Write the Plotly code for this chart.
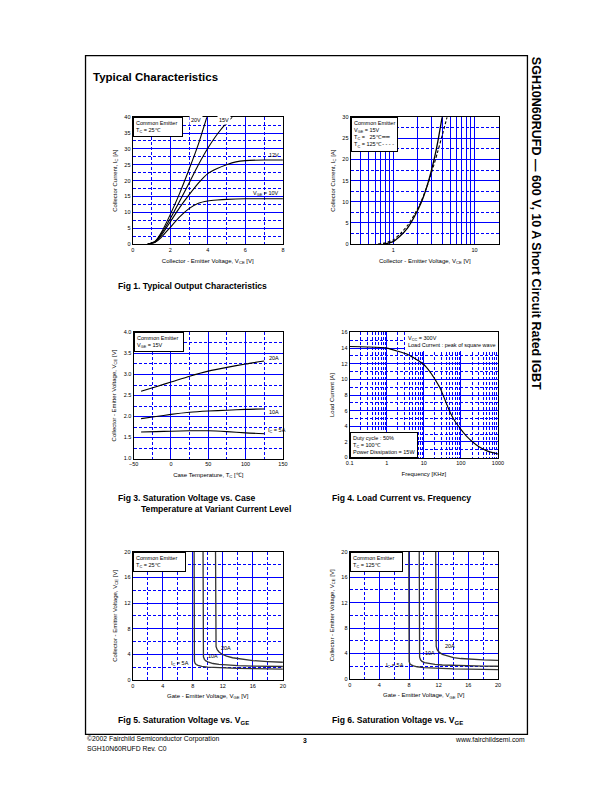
import plotly.graph_objects as go

W, H = 612, 792

# ---------------- DATA ----------------
# Fig 1: Typical output characteristics (VCE [V] vs IC [A])
f1_vce_10 = [0.8, 1.2, 1.5, 2.0, 2.5, 3.0, 3.5, 4.0, 4.5, 5.0, 6.0, 7.0, 8.0]
f1_ic_10 = [0.0, 0.6, 2.0, 5.3, 8.6, 11.2, 12.9, 13.6, 13.9, 14.1, 14.3, 14.3, 14.3]
f1_vce_12 = [0.8, 1.2, 1.5, 2.0, 2.5, 3.0, 3.5, 4.0, 4.5, 5.0, 5.5, 6.0, 7.0, 8.0]
f1_ic_12 = [0.0, 0.7, 2.5, 7.0, 11.5, 15.5, 19.2, 22.2, 23.8, 25.0, 25.9, 26.3, 26.5, 26.5]
f1_vce_15 = [0.8, 1.2, 1.5, 2.0, 2.5, 3.0, 3.5, 4.0, 4.5, 5.0, 5.3]
f1_ic_15 = [0.0, 0.8, 3.0, 8.0, 13.5, 19.2, 25.0, 30.2, 34.6, 38.2, 40.0]
f1_vce_20 = [0.8, 1.2, 1.5, 2.0, 2.5, 3.0, 3.5, 3.95]
f1_ic_20 = [0.0, 0.9, 3.4, 9.3, 16.0, 23.5, 31.5, 40.0]

# Fig 2: IC vs VCE, VGE = 15V, TC = 25 / 125 C
f2_vce_25 = [0.75, 0.85, 1.0, 1.2, 1.5, 1.8, 2.2, 2.6, 2.9, 3.3, 3.6, 4.0]
f2_ic_25 = [0.0, 0.2, 0.6, 1.8, 3.8, 6.3, 9.7, 13.6, 16.8, 21.3, 25.0, 30.0]
f2_vce_125 = [0.65, 0.8, 1.0, 1.2, 1.5, 1.8, 2.2, 2.6, 3.0, 3.5, 4.0, 4.6]
f2_ic_125 = [0.0, 0.3, 1.0, 2.3, 4.4, 6.8, 10.0, 13.6, 17.2, 21.6, 25.6, 30.0]

# Fig 3: VCE(sat) vs case temperature
f3_temp = [-40, -20, 0, 25, 50, 75, 100, 125]
f3_vce_20a = [2.60, 2.71, 2.82, 2.96, 3.08, 3.17, 3.25, 3.32]
f3_vce_10a = [1.95, 2.00, 2.05, 2.10, 2.13, 2.15, 2.17, 2.18]
f3_vce_5a = [1.63, 1.64, 1.65, 1.66, 1.66, 1.64, 1.61, 1.59]

# Fig 4: Load current vs frequency
f4_freq = [0.1, 0.3, 1, 2, 3.6, 6, 10, 15, 20, 28, 40, 51, 70, 100, 150, 212, 300, 500, 1000]
f4_load = [14.2, 14.15, 14.0, 13.6, 13.2, 12.6, 11.9, 10.9, 10.0, 8.8, 7.0, 5.8, 4.6, 3.6, 2.6, 1.95, 1.4, 0.85, 0.45]

# Fig 5: VCE vs VGE, TC = 25 C
f5_vge_5a = [8.18, 8.18, 8.22, 8.3, 8.45, 8.7, 9.2, 10, 11, 12.5, 14, 16, 18, 20]
f5_vce_5a = [20, 3.6, 2.9, 2.6, 2.4, 2.25, 2.1, 2.0, 1.93, 1.86, 1.8, 1.75, 1.7, 1.66]
f5_vge_10a = [9.37, 9.37, 9.42, 9.55, 9.75, 10.1, 10.7, 11.5, 12.5, 14, 16, 18, 20]
f5_vce_10a = [20, 4.4, 3.6, 3.2, 2.95, 2.75, 2.55, 2.42, 2.32, 2.22, 2.15, 2.1, 2.08]
f5_vge_20a = [11.03, 11.03, 11.1, 11.25, 11.5, 11.9, 12.5, 13.3, 14.5, 16, 18, 20]
f5_vce_20a = [20, 6.0, 5.2, 4.7, 4.35, 4.0, 3.7, 3.45, 3.2, 3.0, 2.85, 2.75]

# Fig 6: VCE vs VGE, TC = 125 C
f6_vge_5a = [7.97, 7.97, 8.02, 8.12, 8.3, 8.6, 9.1, 10, 11, 12.5, 14, 16, 18, 20]
f6_vce_5a = [20, 3.4, 2.7, 2.4, 2.2, 2.05, 1.9, 1.78, 1.7, 1.62, 1.57, 1.52, 1.49, 1.46]
f6_vge_10a = [9.38, 9.38, 9.43, 9.55, 9.75, 10.1, 10.7, 11.5, 12.5, 14, 16, 18, 20]
f6_vce_10a = [20, 4.2, 3.4, 3.0, 2.75, 2.55, 2.38, 2.27, 2.18, 2.1, 2.04, 2.0, 1.98]
f6_vge_20a = [11.6, 11.6, 11.67, 11.8, 12.05, 12.5, 13.1, 14, 15, 16.5, 18, 20]
f6_vce_20a = [20, 6.0, 5.1, 4.6, 4.2, 3.85, 3.6, 3.35, 3.2, 3.07, 2.98, 2.9]

# ---------------- HELPERS ----------------
def px_x(p):
    return p / W

def px_y(p):
    return 1 - p / H

FONT = "Liberation Sans, Arial, sans-serif"
BLUE = "#0000ff"

fig = go.Figure()

def add_line(x, y, ax, dash="solid", color="black", width=1.1, shape="spline"):
    fig.add_trace(go.Scatter(x=x, y=y, mode="lines", xaxis="x" + ax, yaxis="y" + ax,
                             line=dict(color=color, width=width, dash=dash, shape=shape,
                                       smoothing=0.6 if shape == "spline" else None),
                             showlegend=False, hoverinfo="skip"))

def axis(domain, rng, dtick, mdtick, anchor, title, typ="linear", minor_dash="3px,2px"):
    d = dict(domain=domain, range=rng, type=typ, anchor=anchor,
             showline=True, linecolor="black", linewidth=1.2, mirror=True,
             showgrid=True, gridcolor=BLUE, gridwidth=1.3, zeroline=False,
             ticks="", tickfont=dict(size=5.5, color="black", family=FONT),
             title=dict(text=title, font=dict(size=6, color="black", family=FONT), standoff=6),
             exponentformat="none",
             minor=dict(showgrid=True, gridcolor=BLUE, gridwidth=0.8, griddash=minor_dash))
    d["dtick"] = dtick
    if typ == "linear":
        d["tick0"] = 0
    if mdtick is not None:
        d["minor"]["dtick"] = mdtick
    return d

# ---------------- FIG 1 ----------------
add_line(f1_vce_10, f1_ic_10, "")
add_line(f1_vce_12, f1_ic_12, "")
add_line(f1_vce_15, f1_ic_15, "")
add_line(f1_vce_20, f1_ic_20, "")

# ---------------- FIG 2 ----------------
add_line(f2_vce_25, f2_ic_25, "2", width=1.3)
add_line(f2_vce_125, f2_ic_125, "2", dash="3px,2px", width=1.1)

# ---------------- FIG 3 ----------------
add_line(f3_temp, f3_vce_20a, "3")
add_line(f3_temp, f3_vce_10a, "3")
add_line(f3_temp, f3_vce_5a, "3")

# ---------------- FIG 4 ----------------
add_line(f4_freq, f4_load, "4")

# ---------------- FIG 5 / 6 ----------------
for xs, ys in [(f5_vge_5a, f5_vce_5a), (f5_vge_10a, f5_vce_10a), (f5_vge_20a, f5_vce_20a)]:
    add_line(xs, ys, "5", color="#333333", width=1.3, shape="linear")
for xs, ys in [(f6_vge_5a, f6_vce_5a), (f6_vge_10a, f6_vce_10a), (f6_vge_20a, f6_vce_20a)]:
    add_line(xs, ys, "6", color="#333333", width=1.3, shape="linear")

VCE = "Collector - Emitter Voltage, V<sub>CE</sub> [V]"
layout = dict(
    width=W, height=H, margin=dict(l=0, r=0, t=0, b=0),
    paper_bgcolor="white", plot_bgcolor="white",
    font=dict(family=FONT, color="black"),
    xaxis=axis([px_x(130), px_x(283)], [0, 8], 2, 1, "y", VCE),
    yaxis=axis([px_y(243), px_y(115)], [0, 40], 5, 2.5, "x", "Collector Current, I<sub>C</sub> [A]"),
    xaxis2=axis([px_x(352), px_x(503)], [-0.523, 1.301], 1, None, "y2", VCE, typ="log", minor_dash="solid"),
    yaxis2=axis([px_y(243), px_y(115)], [0, 30], 5, 2.5, "x2", "Collector Current, I<sub>C</sub> [A]"),
    xaxis3=axis([px_x(131), px_x(283)], [-50, 150], 50, 25, "y3", "Case Temperature, T<sub>C</sub> [℃]"),
    yaxis3=axis([px_y(459), px_y(332)], [1.0, 4.0], 0.5, 0.25, "x3", "Collector - Emitter Voltage, V<sub>CE</sub> [V]"),
    xaxis4=axis([px_x(351), px_x(502)], [-1, 3], 1, None, "y4", "Frequency [KHz]", typ="log"),
    yaxis4=axis([px_y(458), px_y(332)], [0, 16], 2, 1, "x4", "Load Current [A]"),
    xaxis5=axis([px_x(130), px_x(283)], [0, 20], 4, 2, "y5", "Gate - Emitter Voltage, V<sub>GE</sub> [V]"),
    yaxis5=axis([px_y(682), px_y(553)], [0, 20], 4, 2, "x5", VCE),
    xaxis6=axis([px_x(351), px_x(502)], [0, 20], 4, 2, "y6", "Gate - Emitter Voltage, V<sub>GE</sub> [V]"),
    yaxis6=axis([px_y(681), px_y(553)], [0, 20], 4, 2, "x6", VCE),
)
layout["yaxis3"]["tickformat"] = ".1f"
fig.update_layout(**layout)

ann = []
def t(text, x, y, xref, yref, size=5.5, xanchor="left", yanchor="middle", **kw):
    ann.append(dict(text=text, x=x, y=y, xref=xref, yref=yref, showarrow=False,
                    xanchor=xanchor, yanchor=yanchor, align="left",
                    font=dict(size=size, color="black", family=kw.pop("family", FONT)), **kw))

def box(text, x, y, axn, xanchor="left", yanchor="top", border=True):
    ann.append(dict(text=text, x=x, y=y, xref="x%s domain" % axn, yref="y%s domain" % axn,
                    showarrow=False, xanchor=xanchor, yanchor=yanchor, align="left",
                    bgcolor="white", bordercolor="black" if border else "white", borderwidth=1, borderpad=2,
                    font=dict(size=5.5, color="black", family=FONT)))

# Fig 1 labels
box("Common Emitter  <br>T<sub>C</sub> = 25℃", 0.0, 1.0, "")
t("20V", 3.35, 39, "x", "y", xanchor="center", bgcolor="white")
t("15V", 4.85, 39, "x", "y", xanchor="center", bgcolor="white")
t("12V", 7.5, 28.2, "x", "y", xanchor="center")
t("V<sub>GE</sub> = 10V", 7.9, 16, "x", "y", xanchor="right")

# Fig 2 labels
box("Common Emitter<br>V<sub>GE</sub> = 15V<br>T<sub>C</sub> =   25℃ ━━<br>T<sub>C</sub> = 125℃ - - - -", 0.0, 1.0, "2")

# Fig 3 labels
box("Common Emitter  <br>V<sub>GE</sub> = 15V", 0.0, 1.0, "3")
t("20A", 129, 3.4, "x3", "y3")
t("10A", 129, 2.1, "x3", "y3")
t("I<sub>C</sub> = 5A", 127, 1.66, "x3", "y3")

# Fig 4 labels
box("V<sub>CC</sub> = 300V<br>Load Current : peak of square wave", 1.0, 1.0, "4", xanchor="right", border=False)
box("Duty cycle : 50%          <br>T<sub>C</sub> = 100℃<br>Power Dissipation = 15W", 0.0, 0.0, "4", yanchor="bottom")

# Fig 5 labels
box("Common Emitter    <br>T<sub>C</sub> = 25℃", 0.0, 1.0, "5")
t("20A", 11.5, 4.9, "x5", "y5")
t("10A", 9.8, 3.7, "x5", "y5")
t("I<sub>C</sub> = 5A", 7.7, 2.5, "x5", "y5", xanchor="right")

# Fig 6 labels
box("Common Emitter    <br>T<sub>C</sub> = 125℃", 0.0, 1.0, "6")
t("20A", 12.6, 5.1, "x6", "y6")
t("10A", 9.9, 4.0, "x6", "y6")
t("I<sub>C</sub> = 5A", 7.6, 2.1, "x6", "y6", xanchor="right")

# Page text
CAP = "Liberation Sans, Arial, sans-serif"
t("<b>Typical Characteristics</b>", px_x(88), px_y(75), "paper", "paper", size=11.5)
t("<b>Fig 1. Typical Output Characteristics</b>", px_x(113), px_y(285), "paper", "paper", size=8.6, family=CAP)
t("<b>Fig 3. Saturation Voltage vs. Case</b>", px_x(113), px_y(499), "paper", "paper", size=8.6, family=CAP)
t("<b>Temperature at Variant Current Level</b>", px_x(136), px_y(510), "paper", "paper", size=8.6, family=CAP)
t("<b>Fig 4. Load Current vs. Frequency</b>", px_x(331), px_y(499), "paper", "paper", size=8.6, family=CAP)
t("<b>Fig 5. Saturation Voltage vs. V<sub>GE</sub></b>", px_x(113), px_y(723), "paper", "paper", size=8.6, family=CAP)
t("<b>Fig 6. Saturation Voltage vs. V<sub>GE</sub></b>", px_x(331), px_y(723), "paper", "paper", size=8.6, family=CAP)

t("©2002 Fairchild Semiconductor Corporation", px_x(81), px_y(742), "paper", "paper", size=6.8)
t("SGH10N60RUFD Rev. C0", px_x(81), px_y(751), "paper", "paper", size=6.8)
t("<b>3</b>", px_x(305), px_y(743), "paper", "paper", size=6.8, xanchor="center")
t("www.fairchildsemi.com", px_x(532), px_y(742), "paper", "paper", size=6.8, xanchor="right")

ann.append(dict(text="<b>SGH10N60RUFD — 600 V, 10 A Short Circuit Rated IGBT</b>",
                x=px_x(541), y=px_y(52), xref="paper", yref="paper", showarrow=False,
                textangle=90, xanchor="center", yanchor="top",
                font=dict(size=12.5, color="black", family=FONT)))

fig.update_layout(annotations=ann)

fig.add_shape(type="rect", xref="paper", yref="paper",
              x0=px_x(82), x1=px_x(532), y0=px_y(737), y1=px_y(53),
              line=dict(color="black", width=1.3), layer="below")

fig.write_html("out.html", config={"displayModeBar": False},
               post_script="document.body.style.margin='0px';")
